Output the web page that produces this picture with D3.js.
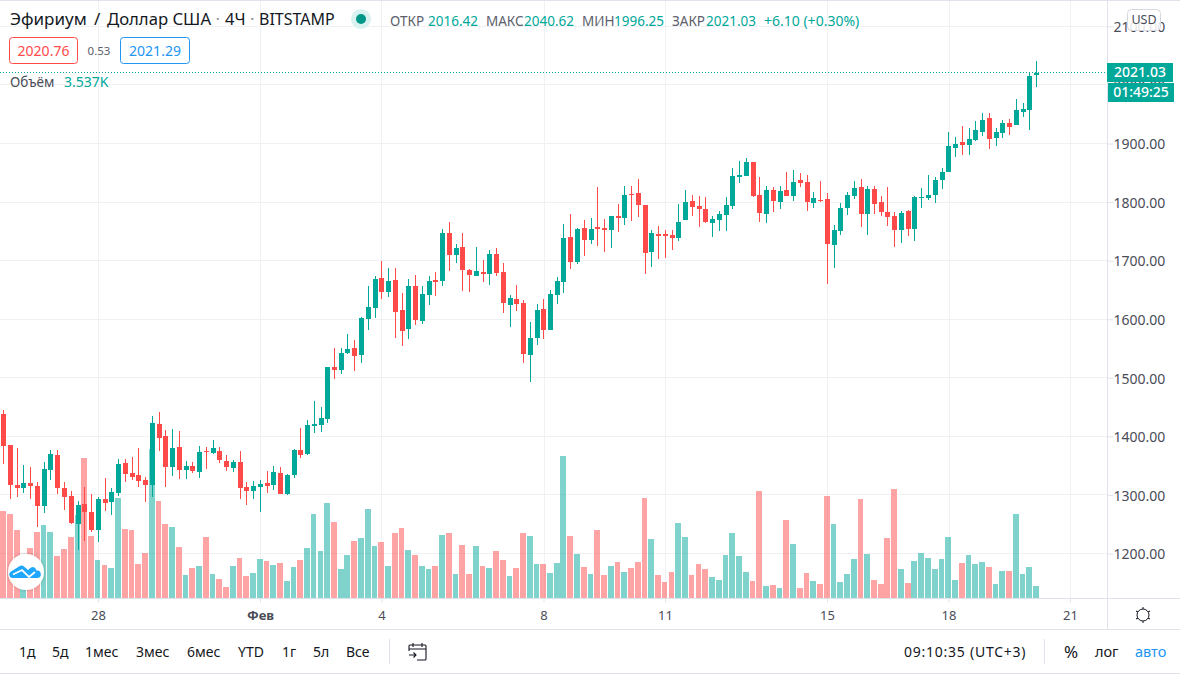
<!DOCTYPE html>
<html>
<head>
<meta charset="utf-8">
<script src="https://d3js.org/d3.v7.min.js"></script>
<style>
  html, body { margin: 0; padding: 0; background: #fff; overflow: hidden; }
  text { font-family: "Noto Sans", sans-serif; }
</style>
</head>
<body>
<div id="chart"></div>
<script>
// OHLC of the 4h candles
const opens = [1438,1385,1317,1312,1320,1315,1281,1343,1368,1312,
  1298,1250,1285,1271,1240,1293,1288,1303,1355,1338,
  1334,1326,1317,1421,1401,1348,1382,1343,1349,1339,
  1375,1372,1375,1358,1346,1356,1314,1307,1314,1320,
  1317,1338,1302,1334,1377,1370,1418,1419,1430,1518,
  1513,1542,1551,1539,1600,1619,1670,1646,1667,1616,
  1583,1657,1597,1641,1667,1665,1747,1710,1723,1684,
  1674,1681,1677,1711,1681,1624,1635,1628,1539,1568,
  1618,1582,1641,1664,1740,1698,1756,1735,1757,1756,
  1752,1776,1773,1814,1816,1795,1715,1746,1746,1744,
  1739,1769,1802,1793,1788,1764,1769,1778,1793,1843,
  1845,1868,1812,1780,1821,1800,1821,1810,1838,1834,
  1798,1804,1805,1727,1751,1790,1810,1826,1780,1822,
  1800,1783,1776,1752,1785,1754,1807,1807,1812,1838,
  1851,1892,1902,1897,1906,1920,1943,1909,1918,1935,
  1932,1954,1957,2016.42];
const highs = [1445,1385,1380,1351,1348,1322,1356,1377,1377,1322,
  1307,1290,1314,1302,1297,1329,1312,1361,1361,1365,
  1380,1331,1435,1442,1411,1413,1409,1358,1356,1384,
  1382,1394,1382,1368,1360,1375,1322,1324,1326,1341,
  1349,1348,1336,1379,1414,1428,1460,1450,1519,1551,
  1551,1575,1565,1604,1657,1674,1699,1687,1687,1645,
  1669,1676,1657,1674,1681,1754,1766,1728,1747,1686,
  1723,1701,1718,1722,1696,1641,1658,1633,1595,1626,
  1635,1650,1672,1763,1780,1756,1769,1773,1826,1771,
  1776,1797,1827,1827,1839,1795,1752,1759,1752,1752,
  1797,1821,1812,1810,1809,1776,1785,1809,1858,1870,
  1875,1868,1843,1827,1826,1827,1851,1855,1850,1846,
  1817,1836,1816,1761,1798,1817,1836,1839,1827,1827,
  1810,1826,1783,1785,1786,1810,1824,1846,1843,1858,
  1920,1911,1930,1926,1938,1952,1952,1926,1940,1942,
  1976,1969,2022,2040.62];
const lows = [1353,1293,1297,1303,1293,1245,1269,1326,1302,1274,
  1250,1206,1221,1237,1220,1273,1266,1298,1322,1326,
  1314,1288,1297,1375,1314,1332,1327,1327,1337,1329,
  1344,1370,1355,1341,1339,1293,1283,1293,1271,1303,
  1308,1302,1300,1329,1363,1368,1406,1407,1423,1498,
  1507,1541,1512,1525,1582,1602,1635,1638,1568,1554,
  1566,1590,1592,1624,1640,1657,1682,1696,1648,1646,
  1674,1664,1658,1674,1611,1587,1614,1525,1493,1556,
  1566,1582,1626,1645,1686,1694,1708,1728,1725,1715,
  1722,1749,1761,1768,1775,1677,1689,1703,1705,1718,
  1734,1769,1776,1757,1764,1740,1751,1751,1788,1833,
  1845,1809,1766,1764,1783,1788,1810,1802,1826,1785,
  1790,1800,1660,1687,1744,1778,1805,1757,1744,1780,
  1776,1759,1723,1730,1742,1734,1790,1803,1798,1822,
  1851,1877,1880,1880,1904,1913,1891,1896,1909,1914,
  1932,1945,1923,1996.25];
const closes = [1384,1317,1312,1320,1315,1281,1344,1370,1312,1297,
  1252,1283,1271,1240,1293,1286,1305,1353,1336,1331,
  1324,1317,1423,1397,1348,1380,1343,1349,1341,1373,
  1374,1380,1360,1348,1356,1312,1307,1315,1319,1315,
  1339,1302,1334,1377,1368,1419,1421,1431,1518,1513,
  1542,1549,1537,1602,1621,1669,1646,1665,1612,1580,
  1657,1599,1643,1665,1664,1747,1710,1722,1684,1676,
  1682,1677,1711,1679,1628,1636,1626,1541,1568,1616,
  1582,1643,1665,1739,1698,1754,1735,1754,1754,1752,
  1776,1773,1812,1812,1795,1713,1747,1742,1742,1739,
  1766,1800,1792,1788,1766,1771,1780,1795,1845,1846,
  1868,1810,1781,1821,1802,1819,1810,1834,1833,1800,
  1807,1802,1728,1752,1790,1812,1824,1780,1822,1797,
  1783,1774,1752,1781,1754,1809,1809,1812,1838,1851,
  1896,1899,1897,1908,1923,1940,1908,1920,1935,1928,
  1957,1959,2015,2021.03];
// volume in thousands
const volumes = [25.6,24.7,20.0,7.4,14.7,19.4,21.5,19.4,12.4,14.4,
  17.9,24.4,41.2,18.2,11.2,9.7,8.8,29.4,20.3,20.0,
  10.0,13.2,43.8,28.5,21.8,20.9,15.0,6.8,8.8,9.4,
  17.9,7.1,5.6,3.2,9.4,11.8,6.5,7.4,11.5,10.9,
  9.7,10.3,5.0,9.1,11.2,14.7,24.7,13.8,27.9,22.4,
  8.5,12.6,16.8,17.6,26.2,15.3,16.5,9.4,19.1,20.6,
  14.1,12.6,9.4,8.5,9.4,18.5,19.1,7.1,15.6,7.1,
  15.3,9.4,8.8,13.8,11.2,6.5,8.8,19.1,18.2,10.0,
  10.0,7.4,10.3,41.8,18.2,12.9,9.1,7.1,20.0,6.8,
  9.4,10.6,7.6,8.8,10.6,29.4,17.3,6.8,4.7,7.6,
  22.1,17.9,6.8,10.0,8.5,6.2,5.3,12.6,19.1,12.4,
  7.6,5.0,31.5,3.5,3.8,2.9,22.9,15.9,2.9,7.4,
  5.0,4.1,30.0,21.8,4.7,7.1,11.5,29.1,12.9,5.3,
  4.1,17.6,32.0,8.5,4.4,10.9,13.2,11.8,8.5,11.5,
  17.9,5.3,10.3,12.6,10.0,10.6,9.1,4.1,7.9,7.9,
  24.7,7.1,9.1,3.537];

const priceTicks = [1200,1300,1400,1500,1600,1700,1800,1900,2000,2100];
const dayIndex = [14,38,56,80,98,122,140,158];
const dayLabels = ["28","Фев","4","8","11","15","18","21"];
const rangeLabels = ["1д","5д","1мес","3мес","6мес","YTD","1г","5л","Все"];
const rangeX = [19,52,85,136,187,238,282,313,346];
const lastPrice = 2021.03;

const up = "#00a89a", down = "#ff4a4a", blue = "#2196f3", dark = "#131722", grey = "#5d606b";
const border = "#e0e3eb", grid = "#f1f1f4";

const W = 1180, H = 674, plotRight = 1107, plotBottom = 598, axisBottom = 629;

const svg = d3.select("#chart").append("svg")
  .attr("width", W).attr("height", H)
  .style("display", "block");

const x = d3.scaleLinear().domain([0, 153]).range([3.5, 1036.25]);
const y = d3.scaleLinear().domain([1200, 2100]).range([553.5, 26.4]);
const yVol = d3.scaleLinear().domain([0, 44]).range([plotBottom, plotBottom - 44 * 3.4]);

// Grid
svg.append("g").selectAll("line").data(priceTicks).join("line")
  .attr("x1", 0).attr("x2", plotRight)
  .attr("y1", d => Math.floor(y(d)) + 0.5).attr("y2", d => Math.floor(y(d)) + 0.5)
  .attr("stroke", grid);
svg.append("g").selectAll("line").data(dayIndex).join("line")
  .attr("x1", d => Math.round(x(d)) + 0.5).attr("x2", d => Math.round(x(d)) + 0.5)
  .attr("y1", 0).attr("y2", plotBottom)
  .attr("stroke", grid);

// Volume bars
svg.append("g").attr("shape-rendering", "crispEdges")
  .selectAll("rect").data(volumes).join("rect")
  .attr("x", (d, i) => Math.round(x(i) - 3.25))
  .attr("width", (d, i) => Math.round(x(i) + 2.5) - Math.round(x(i) - 3.25))
  .attr("y", d => yVol(d))
  .attr("height", d => plotBottom - yVol(d))
  .attr("fill", (d, i) => closes[i] >= opens[i] ? up : down)
  .attr("opacity", 0.5);

// Candles
const candles = svg.append("g").attr("shape-rendering", "crispEdges")
  .selectAll("g").data(d3.range(opens.length)).join("g")
  .attr("fill", i => closes[i] >= opens[i] ? up : down);
candles.append("rect")
  .attr("x", i => Math.round(x(i) - 2.25) + 2)
  .attr("width", 1)
  .attr("y", i => y(highs[i]))
  .attr("height", i => y(lows[i]) - y(highs[i]));
candles.append("rect")
  .attr("x", i => Math.round(x(i) - 2.25))
  .attr("width", 5)
  .attr("y", i => y(Math.max(opens[i], closes[i])))
  .attr("height", i => Math.max(1, Math.abs(y(opens[i]) - y(closes[i]))));

// Last price line
svg.append("line")
  .attr("x1", 0).attr("x2", plotRight)
  .attr("y1", Math.floor(y(lastPrice)) + 0.5).attr("y2", Math.floor(y(lastPrice)) + 0.5)
  .attr("stroke", up).attr("stroke-dasharray", "1 2")
  .attr("shape-rendering", "crispEdges");

// Price axis on the right
const priceAxis = d3.axisRight(y)
  .tickValues(priceTicks)
  .tickSize(6)
  .tickPadding(0)
  .tickFormat(d => d.toFixed(2));
const priceG = svg.append("g")
  .attr("transform", `translate(${plotRight + 0.5},0)`)
  .call(priceAxis);
priceG.select(".domain").remove();
priceG.selectAll("line").attr("stroke", border).attr("y1", 0).attr("y2", 0);
priceG.selectAll("text")
  .attr("x", 6).attr("dy", "0.38em")
  .attr("fill", "#4a4d57").style("font-size", "14px");

// Time axis
const timeAxis = d3.axisBottom(x)
  .tickValues(dayIndex)
  .tickSize(4)
  .tickPadding(8)
  .tickFormat((d, i) => dayLabels[i]);
const timeG = svg.append("g")
  .attr("transform", `translate(0,${plotBottom + 0.5})`)
  .call(timeAxis);
timeG.select(".domain").remove();
timeG.selectAll("line").attr("stroke", border);
timeG.selectAll("text")
  .attr("fill", "#4a4d57")
  .style("font-size", "13px")
  .style("font-weight", d => d === 38 ? 700 : 400);

// Panel borders
const rules = [
  [0, 0.5, W, 0.5], [0, plotBottom + 0.5, W, plotBottom + 0.5],
  [0, axisBottom + 0.5, W, axisBottom + 0.5], [0, H - 0.5, W, H - 0.5],
  [plotRight + 0.5, 0, plotRight + 0.5, axisBottom],
  [389.5, 639, 389.5, 664], [1044.5, 639, 1044.5, 664]
];
svg.append("g").selectAll("line").data(rules).join("line")
  .attr("x1", d => d[0]).attr("y1", d => d[1]).attr("x2", d => d[2]).attr("y2", d => d[3])
  .attr("stroke", border);

// Small helper for the many header labels
function label(txt, px, py, size, fill, anchor) {
  return svg.append("text").attr("x", px).attr("y", py)
    .attr("text-anchor", anchor || "start")
    .attr("fill", fill).style("font-size", size + "px").text(txt);
}

// Header
label("Эфириум", 10, 25, 17, dark);
label("/", 94, 25, 17, dark);
label("Доллар США", 107, 25, 16.7, dark);
label("·", 215.5, 25, 17, "#9598a1");
label("4Ч", 225, 25, 16.5, dark);
label("·", 250, 25, 17, "#9598a1");
label("BITSTAMP", 259, 25, 16, dark);
svg.append("circle").attr("cx", 361).attr("cy", 19).attr("r", 10).attr("fill", "#d9f2ef");
svg.append("circle").attr("cx", 361).attr("cy", 19).attr("r", 5).attr("fill", "#009688");

[["ОТКР", 390, "2016.42", 428], ["МАКС", 486, "2040.62", 524],
 ["МИН", 582, "1996.25", 614], ["ЗАКР", 672, "2021.03", 706]].forEach(d => {
  label(d[0], d[1], 26, 13.5, grey);
  label(d[2], d[3], 26, 13.5, up);
});
label("+6.10 (+0.30%)", 764, 26, 14, up);

// Bid / ask boxes
svg.append("rect").attr("x", 9.5).attr("y", 37.5).attr("width", 68).attr("height", 26).attr("rx", 3)
  .attr("fill", "#fff").attr("stroke", down);
label("2020.76", 43.5, 56, 14, down, "middle");
label("0.53", 99, 55, 11.5, grey, "middle");
svg.append("rect").attr("x", 120.5).attr("y", 37.5).attr("width", 69).attr("height", 26).attr("rx", 3)
  .attr("fill", "#fff").attr("stroke", blue);
label("2021.29", 155, 56, 14, blue, "middle");

label("Объём", 10, 87, 13.5, "#4a4d57");
label("3.537K", 64, 87, 14, up);

// Price tags on the axis
svg.append("rect").attr("x", plotRight).attr("y", 63).attr("width", 66).attr("height", 19).attr("fill", up);
label("2021.03", 1140, 77, 14, "#fff", "middle").style("font-weight", 500);
svg.append("rect").attr("x", plotRight + 1).attr("y", 83).attr("width", 66).attr("height", 19).attr("fill", up);
label("01:49:25", 1141, 97, 14, "#fff", "middle").style("font-weight", 500);

// Currency button
svg.append("rect").attr("x", 1127.5).attr("y", 9.5).attr("width", 33).attr("height", 21).attr("rx", 4)
  .attr("fill", "rgba(255,255,255,0.85)").attr("stroke", "#d6d8e0");
label("USD", 1144, 24, 12.5, "#4a4d57", "middle");

// Logo badge
const shadow = svg.append("defs").append("filter").attr("id", "badge")
  .attr("x", "-30%").attr("y", "-30%").attr("width", "160%").attr("height", "160%");
shadow.append("feDropShadow").attr("dx", 0).attr("dy", 0).attr("stdDeviation", 1.5)
  .attr("flood-color", "#000").attr("flood-opacity", 0.25);
svg.append("circle").attr("cx", 26).attr("cy", 572).attr("r", 18)
  .attr("fill", "#fff").attr("filter", "url(#badge)");
svg.append("path")
  .attr("d", "M12 578a3.5 3.5 0 0 1-1-6.5l8-5q3-2 5 0l4 3.500 3-2.500q3-1.500 4.500 1l1 2a3.500 3.500 0 0 1 1 7.500z")
  .attr("fill", "#1ea7fd");
svg.append("path")
  .attr("d", "M13 574.500l9-4.500 7 7 6-5")
  .attr("fill", "none").attr("stroke", "#fff").attr("stroke-width", 1.8);

// Gear
const gear = svg.append("g").attr("transform", "translate(1143,615)")
  .attr("fill", "none").attr("stroke", dark);
gear.append("circle").attr("r", 6);
gear.selectAll("line").data(d3.range(6)).join("line")
  .attr("y1", -6).attr("y2", -8)
  .attr("transform", d => `rotate(${d * 60})`);

// Bottom toolbar
rangeLabels.forEach((t, i) => label(t, rangeX[i], 657, 14, dark));

const cal = svg.append("g").attr("transform", "translate(408,642)")
  .attr("fill", "none").attr("stroke", dark).attr("stroke-width", 1.1);
cal.append("path").attr("d", "M1 9V4q0-1 1-1h15q1 0 1 1v13q0 1-1 1H9M1 7h17M5 1v4M14 1v4M1 13h7M5.5 10.5l2.5 2.5-2.5 2.5");

label("09:10:35 (UTC+3)", 904, 657, 14, dark).style("letter-spacing", "0.75px");
label("%", 1071, 658, 17, dark, "middle");
label("лог", 1095, 657, 14.5, dark);
label("авто", 1135, 657, 14.5, blue);
</script>
</body>
</html>
